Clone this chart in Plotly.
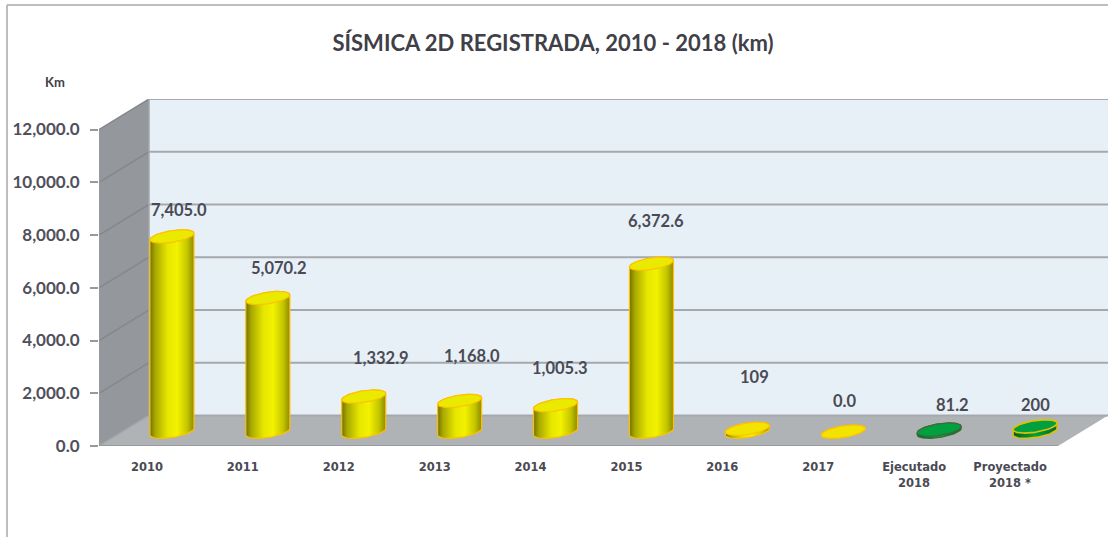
import numpy as np
import plotly.graph_objects as go

categories = ["2010", "2011", "2012", "2013", "2014", "2015", "2016", "2017",
              "Ejecutado<br>2018", "Proyectado<br>2018 *"]
values = [7405.0, 5070.2, 1332.9, 1168.0, 1005.3, 6372.6, 109, 0.0, 81.2, 200]
labels = ["7,405.0", "5,070.2", "1,332.9", "1,168.0", "1,005.3", "6,372.6", "109", "0.0", "81.2", "200"]
y_ticks = [0, 2000, 4000, 6000, 8000, 10000, 12000]
y_tick_text = ["0.0", "2,000.0", "4,000.0", "6,000.0", "8,000.0", "10,000.0", "12,000.0"]

# layout of the fake 3D box
W, H = 1108, 537
ML, MT, MB = 99, 99, 91
PX_CAT = 95.9
PX_VAL = 0.026333
DX = 50 / PX_CAT
DY = 30.5 / PX_VAL
X0, X1 = -0.5, 9.5
label_shift = [(7, 26), (11, 30), (17, 39), (12, 45), (4, 37), (5, 43), (7, 52), (1, 31), (13, 25), (0, 21)]
body_scales = ["y"] * 8 + ["g", "g"]
YEL = [[0, "#6f6f00"], [0.12, "#a8a800"], [0.4, "#e6e600"], [0.62, "#f2f200"], [0.85, "#c4c400"], [1, "#8a8a00"]]
GRN = [[0, "#00602a"], [0.5, "#00a040"], [1, "#006a2e"]]
cap_fill = ["#eaea00"] * 6 + ["#f2e400", "#f2e400", "#00a040", "#00a040"]
edge = ["#ffc000"] * 8 + ["#3f6b3a", "#e0c000"]
edge_w = [1.2] * 9 + [1.6]


def proj(cat, val, depth):
    return cat + depth * DX, val + depth * DY


fig = go.Figure()


def poly(xs, ys, fill, line="rgba(0,0,0,0)", width=0):
    fig.add_trace(go.Scatter(x=xs, y=ys, mode="lines", fill="toself", fillcolor=fill,
                             line=dict(color=line, width=width), hoverinfo="skip",
                             showlegend=False, cliponaxis=False))


def seg(xs, ys, color, width):
    fig.add_trace(go.Scatter(x=xs, y=ys, mode="lines", line=dict(color=color, width=width),
                             hoverinfo="skip", showlegend=False, cliponaxis=False))


top = y_ticks[-1]
corners = lambda pts: ([p[0] for p in pts], [p[1] for p in pts])
# back wall
poly(*corners([proj(X0, 0, 1), proj(X1, 0, 1), proj(X1, top, 1), proj(X0, top, 1), proj(X0, 0, 1)]), "#e8f0f7")
# side wall
poly(*corners([proj(X0, 0, 0), proj(X0, 0, 1), proj(X0, top, 1), proj(X0, top, 0), proj(X0, 0, 0)]), "#94979b")
# floor
poly(*corners([proj(X0, 0, 0), proj(X1, 0, 0), proj(X1, 0, 1), proj(X0, 0, 1), proj(X0, 0, 0)]), "#b0b3b5")
# gridlines
for v in y_ticks:
    a, b, c = proj(X0, v, 0), proj(X0, v, 1), proj(X1, v, 1)
    seg([a[0], b[0]], [a[1], b[1]], "#85888c" if v else "#a4a7a9", 1.5)
    seg([b[0], c[0]], [b[1], c[1]], "#a5a9ad", 2)
seg(*corners([proj(X0, 0, 0), proj(X1, 0, 0)]), "#97999b", 2)
seg(*corners([proj(X0, 0, 0), proj(X0, top, 0)]), "#97999b", 1)
seg(*corners([proj(X0, 0, 1), proj(X0, top, 1)]), "#a5a9ad", 1.5)

# cylinders
A = 22 / PX_CAT
B = 5.8 / PX_VAL
TILT = 3.2 / PX_VAL
BASE_DROP = 1 / PX_VAL
for i, v in enumerate(values):
    cx, cy0 = proj(i, 0, 0.5)
    cy0 -= BASE_DROP
    cy1 = cy0 + v
    lo = np.linspace(np.pi, 2 * np.pi, 40)
    hi = np.linspace(0, np.pi, 40)
    ell = lambda t, c: (cx + A * np.cos(t), c + TILT * np.cos(t) + B * np.sin(t))
    xl, yl = ell(lo, cy0)
    xh, yh = ell(hi, cy1)
    fig.add_trace(go.Scatter(
        x=np.r_[xl, xh, xl[:1]], y=np.r_[yl, yh, yl[:1]], mode="lines", fill="toself",
        fillgradient=dict(type="horizontal", colorscale=YEL if body_scales[i] == "y" else GRN),
        line=dict(color=edge[i], width=edge_w[i]), hoverinfo="skip", showlegend=False, cliponaxis=False))
    t = np.linspace(0, 2 * np.pi, 80)
    xc, yc = ell(t, cy1)
    poly(xc, yc, cap_fill[i], edge[i], edge_w[i])
    fig.add_annotation(x=cx, y=cy1, text=labels[i], showarrow=False,
                       xshift=label_shift[i][0], yshift=label_shift[i][1],
                       font=dict(family="Lato", size=16.5, color="#4a4a55", weight="bold"))

tick_font = dict(family="DejaVu Sans", size=11.5, color="#4a4a55", weight="bold")
second_lines = [
    dict(x=i, y=0, text=c.split("<br>")[1], showarrow=False, yshift=-37, font=tick_font)
    for i, c in enumerate(categories) if "<br>" in c
]

fig.update_layout(
    width=W, height=H, autosize=False,
    margin=dict(l=ML, r=0, t=MT, b=MB, pad=0),
    paper_bgcolor="white", plot_bgcolor="rgba(0,0,0,0)", showlegend=False,
    title=dict(text="<b>SÍSMICA 2D REGISTRADA, 2010 - 2018 (km)</b>", x=553 / W, xanchor="center",
               y=1 - 43 / H, yanchor="middle", font=dict(family="Lato", size=22, color="#404048")),
    xaxis=dict(range=[X0, X1 + DX], tickvals=list(range(len(categories))),
               ticktext=[c.split("<br>")[0] for c in categories],
               showgrid=False, zeroline=False, showline=False, ticks="", ticklabelstandoff=12,
               tickfont=tick_font),
    yaxis=dict(range=[0, top + DY], tickvals=y_ticks, ticktext=y_tick_text,
               showgrid=False, zeroline=False, showline=False, ticks="outside", ticklen=8,
               tickcolor="#97999b", tickwidth=1.5, ticklabelstandoff=7,
               tickfont=dict(family="Lato", size=17, color="#50505c", weight="bold")),
    annotations=list(fig.layout.annotations) + second_lines + [
        dict(text="<b>Km</b>", x=(55 - ML) / (W - ML), y=(H - MB - 82) / (H - MT - MB),
             xref="paper", yref="paper", xanchor="center", yanchor="middle", showarrow=False,
             font=dict(family="Lato", size=13, color="#404048")),
    ],
    shapes=[
        dict(type="line", xref="paper", yref="paper", x0=(7 - ML) / (W - ML), x1=1,
             y0=(H - MB - 5) / (H - MT - MB), y1=(H - MB - 5) / (H - MT - MB),
             line=dict(color="#a8a8a8", width=1.5)),
        dict(type="line", xref="paper", yref="paper", x0=(7 - ML) / (W - ML), x1=(7 - ML) / (W - ML),
             y0=(H - MB - 5) / (H - MT - MB), y1=-MB / (H - MT - MB),
             line=dict(color="#a8a8a8", width=1.5)),
    ],
)
fig.write_html("out.html", config={"displayModeBar": False},
               post_script="document.body.style.margin='0';document.body.style.overflow='hidden';")
